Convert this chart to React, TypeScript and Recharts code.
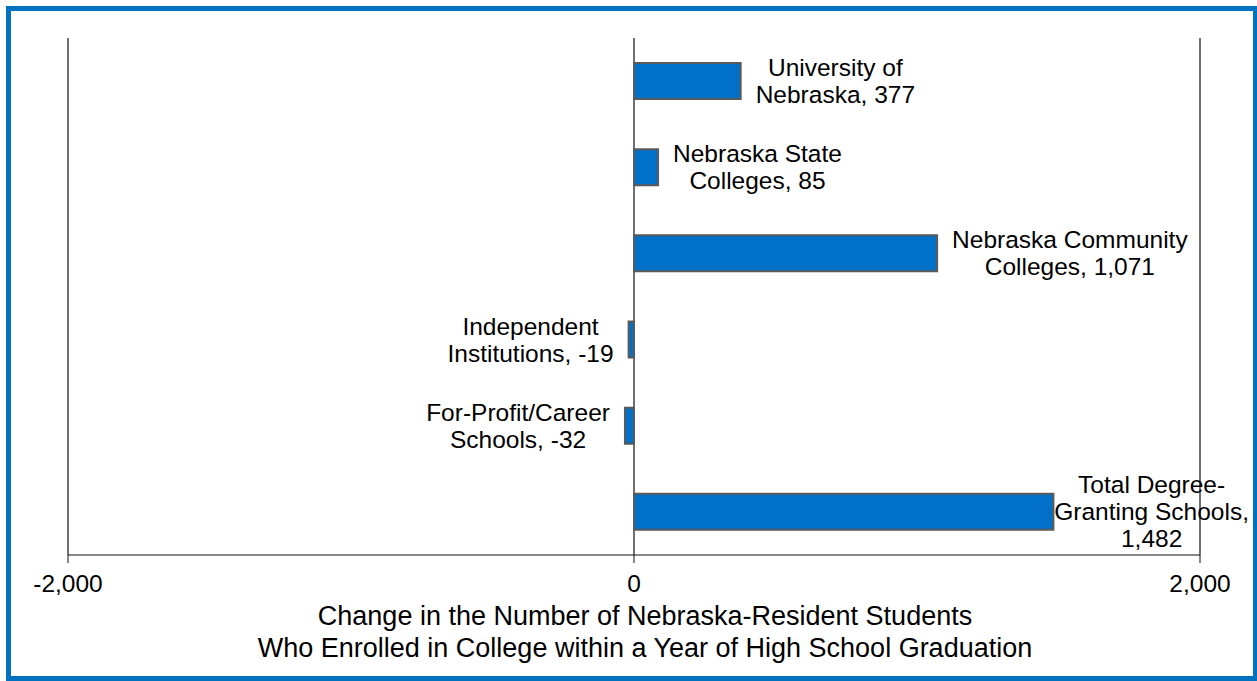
import React from "react";
import { BarChart, Bar, XAxis, YAxis, CartesianGrid, LabelList, Label } from "recharts";

const categories = [
  "University of\nNebraska",
  "Nebraska State\nColleges",
  "Nebraska Community\nColleges",
  "Independent\nInstitutions",
  "For-Profit/Career\nSchools",
  "Total Degree-\nGranting Schools",
];
const values = [377, 85, 1071, -19, -32, 1482];
// how the value is joined to the name in each data label
const joiners = [", ", ", ", ", ", ", ", ", ", ",\n"];
const xTicks = [-2000, 0, 2000];
const titleLines = [
  "Change in the Number of Nebraska-Resident Students",
  "Who Enrolled in College within a Year of High School Graduation",
];

const data = categories.map((name, i) => ({ name, value: values[i] }));

const W = 1257;
const H = 681;
const FONT = "'Liberation Sans', Arial, sans-serif";
const FS = 24.5;
const TITLE_FS = 27;
const LINE_H = 27;
const GAP = 15;

const fmt = (v: number) => v.toLocaleString("en-US");

let ctx: CanvasRenderingContext2D | null = null;
function textWidth(s: string) {
  if (!ctx) {
    ctx = document.createElement("canvas").getContext("2d");
    if (ctx) ctx.font = `${FS}px 'Liberation Sans', Arial`;
  }
  return ctx ? ctx.measureText(s).width : s.length * FS * 0.55;
}

function BarLabel(props: any) {
  const { x, y, width, height, index } = props;
  const v = values[index];
  const lines = `${categories[index]}${joiners[index]}${fmt(v)}`.split("\n");
  const maxW = Math.max(...lines.map(textWidth));
  const left = Math.min(x, x + width);
  const right = Math.max(x, x + width);
  let cx = v >= 0 ? right + GAP + maxW / 2 : left - GAP - maxW / 2;
  if (cx + maxW / 2 > W - 8) cx = W - 8 - maxW / 2;
  const cy = y + height / 2;
  return (
    <g>
      {lines.map((l, i) => (
        <text
          key={i}
          x={cx}
          y={cy + (i - (lines.length - 1) / 2) * LINE_H}
          textAnchor="middle"
          dominantBaseline="central"
          fontSize={FS}
          fontFamily={FONT}
          fill="#000"
        >
          {l}
        </text>
      ))}
    </g>
  );
}

function AxisTitle(props: any) {
  const vb = props.viewBox || {};
  const cx = vb.x + vb.width / 2 + 11;
  return (
    <g>
      {titleLines.map((l, i) => (
        <text
          key={i}
          x={cx}
          y={vb.y + 61 + i * 32}
          textAnchor="middle"
          dominantBaseline="central"
          fontSize={TITLE_FS}
          fontFamily={FONT}
          fill="#000"
        >
          {l}
        </text>
      ))}
    </g>
  );
}

export default function App() {
  return (
    <div style={{ position: "absolute", left: 0, top: 0, width: W, height: H, background: "#fff" }}>
      <div
        style={{
          position: "absolute",
          left: 6,
          top: 6,
          width: W - 6,
          height: H - 6,
          boxSizing: "border-box",
          border: "5px solid #0070c0",
          borderRight: "4px solid #0070c0",
        }}
      />
      <BarChart
        width={W}
        height={H}
        data={data}
        layout="vertical"
        barCategoryGap={0}
        margin={{ top: 38, right: 57, bottom: 96, left: 68 }}
        style={{ position: "absolute", left: 0, top: 0 }}
      >
        <CartesianGrid horizontal={false} stroke="#111" strokeWidth={1.2} />
        <XAxis
          type="number"
          domain={[-2000, 2000]}
          ticks={xTicks}
          tickFormatter={fmt}
          height={30}
          tickSize={8}
          tickMargin={12}
          stroke="#111"
          tick={{ fontSize: FS, fontFamily: FONT, fill: "#000" }}
          interval={0}
        >
          <Label content={<AxisTitle />} />
        </XAxis>
        <YAxis type="category" dataKey="name" hide />
        <Bar dataKey="value" fill="#0070c8" stroke="#5a5a5a" strokeWidth={2} barSize={36} isAnimationActive={false}>
          <LabelList dataKey="value" content={<BarLabel />} />
        </Bar>
      </BarChart>
    </div>
  );
}
